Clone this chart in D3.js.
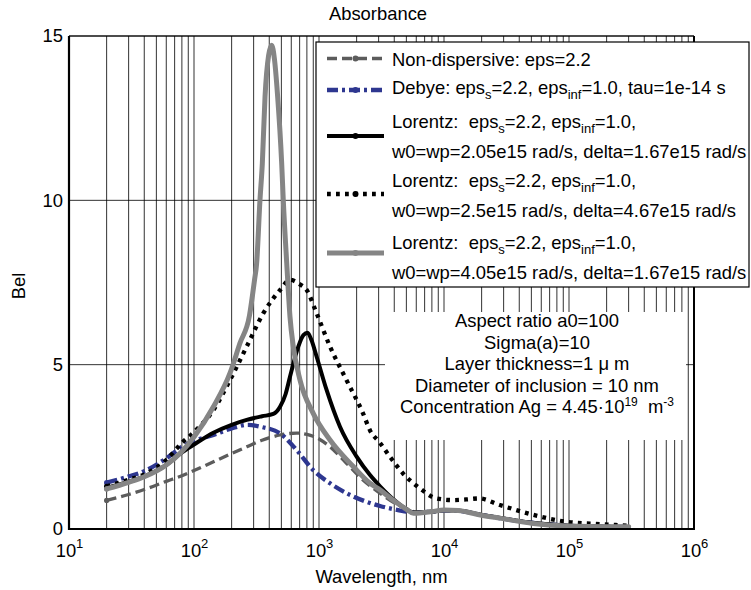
<!DOCTYPE html>
<html>
<head>
<meta charset="utf-8">
<script src="https://cdn.jsdelivr.net/npm/d3@7"></script>
<style>
  html, body { margin: 0; padding: 0; background: #fff; }
  svg { display: block; font-family: "Liberation Sans", Arial, Helvetica, sans-serif; }
  svg text { white-space: pre; }
</style>
</head>
<body>
<svg id="chart" width="751" height="590"></svg>
<script>
// ---- data: [wavelength (nm), absorbance (Bel)] ----
const nonDispersive = [
  [20,0.87],[30,1.05],[40,1.2],[60,1.45],[80,1.62],[100,1.78],[150,2.08],[200,2.3],
  [264,2.5],[350,2.7],[488,2.86],[663,2.92],[800,2.88],[1000,2.74],[1225,2.5],
  [1660,2.0],[2250,1.49],[3077,1.09],[4000,0.8],[5000,0.62],[6000,0.52],[8000,0.52],
  [10000,0.56],[13000,0.55],[20000,0.44],[30000,0.32],[50000,0.2],[100000,0.11],
  [200000,0.07],[300000,0.06]
];
const debye = [
  [20,1.41],[30,1.6],[40,1.76],[60,2.15],[80,2.5],[100,2.68],[143,2.86],[200,3.06],
  [270,3.17],[350,3.1],[488,2.91],[663,2.4],[899,1.79],[1225,1.39],[1660,1.09],
  [2390,0.83],[3077,0.7],[4000,0.6],[5000,0.53],[6000,0.5],[8000,0.53],[10000,0.56],
  [13000,0.55],[20000,0.43],[30000,0.31],[50000,0.19],[100000,0.1],[200000,0.07],
  [300000,0.06]
];
const lorentzA = [
  [20,1.25],[30,1.44],[40,1.6],[60,1.95],[80,2.33],[100,2.57],[143,2.93],[200,3.17],
  [264,3.32],[350,3.43],[431,3.5],[488,3.72],[540,4.1],[586,4.63],[683,5.55],[750,5.9],
  [811,5.97],[870,5.75],[958,5.24],[1150,4.23],[1472,3.11],[2000,2.2],[2560,1.64],
  [3077,1.3],[4000,0.88],[5000,0.6],[5700,0.5],[8000,0.53],[10000,0.57],[13000,0.56],
  [20000,0.43],[30000,0.32],[50000,0.19],[100000,0.1],[200000,0.07],[300000,0.06]
];
const lorentzB = [
  [20,1.3],[30,1.5],[40,1.66],[60,2.1],[80,2.62],[100,2.95],[143,3.62],[194,4.53],
  [264,5.55],[358,6.56],[488,7.27],[586,7.58],[700,7.45],[797,7.27],[958,6.56],
  [1225,5.55],[1660,4.53],[2250,3.52],[2560,3.0],[3077,2.62],[3690,2.2],[4700,1.69],
  [6400,1.24],[8700,0.93],[11800,0.88],[15000,0.9],[19000,0.93],[28000,0.73],
  [51800,0.43],[95600,0.22],[177000,0.15],[300000,0.1]
];
const lorentzC = [
  [20,1.22],[30,1.42],[40,1.59],[60,1.95],[80,2.36],[100,2.8],[143,3.72],[194,4.74],
  [233,5.65],[278,6.5],[305,7.58],[317,8.08],[337,10],[352,11.12],[370,13.15],[395,14.4],
  [418,14.72],[440,14.3],[467,13.15],[503,11.12],[518,10],[552,8.08],[586,6.46],[623,5.55],
  [705,4.53],[899,3.52],[1225,2.71],[1880,1.9],[2560,1.39],[3077,1.19],[4000,0.85],
  [5000,0.6],[5700,0.48],[8000,0.53],[10000,0.58],[13000,0.56],[20000,0.42],[28000,0.33],
  [51800,0.17],[100000,0.09],[200000,0.07],[300000,0.07]
];

// ---- axis ticks and labels ----
const xTickExponents = [1, 2, 3, 4, 5, 6];
const yTicks = [0, 5, 10, 15];
const titleText = "Absorbance";
const xLabelText = "Wavelength, nm";
const yLabelText = "Bel";
const noteLines = [
  "Aspect ratio a0=100",
  "Sigma(a)=10",
  "Layer thickness=1 \u03bc m",
  "Diameter of inclusion = 10 nm",
  "Concentration Ag = 4.45\u00b710^19  m^-3"
];

// ---- series appearance and legend text ----
const series = [
  { data: nonDispersive, color: "#5c5c5c", width: 3.3, dash: "10,5",
    legend: [[["Non-dispersive: eps=2.2"]]] },
  { data: debye, color: "#2e3790", width: 4.3, dash: "11,4,3,4",
    legend: [[["Debye: eps"],["s","sub"],["=2.2, eps"],["inf","sub"],["=1.0, tau=1e-14 s"]]] },
  { data: lorentzA, color: "#000000", width: 4, dash: null,
    legend: [[["Lorentz:  eps"],["s","sub"],["=2.2, eps"],["inf","sub"],["=1.0,"]],
             [["w0=wp=2.05e15 rad/s, delta=1.67e15 rad/s"]]] },
  { data: lorentzB, color: "#000000", width: 4.3, dash: "3.8,5.2",
    legend: [[["Lorentz:  eps"],["s","sub"],["=2.2, eps"],["inf","sub"],["=1.0,"]],
             [["w0=wp=2.5e15 rad/s, delta=4.67e15 rad/s"]]] },
  { data: lorentzC, color: "#858585", width: 5, dash: null,
    legend: [[["Lorentz:  eps"],["s","sub"],["=2.2, eps"],["inf","sub"],["=1.0,"]],
             [["w0=wp=4.05e15 rad/s, delta=1.67e15 rad/s"]]] }
];

const svg = d3.select("#chart");
const plot = { left: 69, right: 694, top: 36, bottom: 529 };
const FONT = 18.4;
const SMALL = 13;

const x = d3.scaleLog().domain([10, 1e6]).range([plot.left, plot.right]);
const y = d3.scaleLinear().domain([0, 15]).range([plot.bottom, plot.top]);

// grid lines
const gridX = [];
for (let e = 1; e < 6; e++) for (let k = 1; k <= 9; k++) gridX.push(k * Math.pow(10, e));
gridX.push(1e6);
const grid = svg.append("g").attr("stroke", "#000").attr("stroke-width", 0.9).attr("stroke-opacity", 0.9);
grid.selectAll("line.v").data(gridX).join("line").attr("class", "v")
  .attr("x1", d => x(d)).attr("x2", d => x(d))
  .attr("y1", plot.top).attr("y2", plot.bottom);
grid.selectAll("line.h").data(yTicks).join("line").attr("class", "h")
  .attr("x1", plot.left).attr("x2", plot.right)
  .attr("y1", d => y(d)).attr("y2", d => y(d));

// curves
const line = d3.line().x(d => x(d[0])).y(d => y(d[1])).curve(d3.curveMonotoneX);
const curves = svg.append("g").attr("fill", "none");
series.forEach(s => {
  curves.append("path").datum(s.data)
    .attr("d", line)
    .attr("stroke", s.color)
    .attr("stroke-width", s.width)
    .attr("stroke-linejoin", "round")
    .attr("stroke-linecap", s.dash ? "butt" : "round")
    .attr("stroke-dasharray", s.dash);
  curves.append("circle")
    .attr("cx", x(s.data[0][0])).attr("cy", y(s.data[0][1]))
    .attr("r", 2.6).attr("fill", s.color);
});

// axes
const xAxis = d3.axisBottom(x)
  .tickValues(xTickExponents.map(e => Math.pow(10, e)))
  .tickSize(0).tickPadding(0).tickFormat("");
const gx = svg.append("g").attr("transform", `translate(0,${plot.bottom})`).call(xAxis);
gx.select(".domain").remove();
gx.attr("font-family", null);
gx.selectAll(".tick").each(function (d, i) {
  const t = d3.select(this).append("text")
    .attr("y", 28).attr("text-anchor", "middle")
    .attr("fill", "#000").attr("font-size", FONT);
  t.append("tspan").text("10");
  t.append("tspan").attr("font-size", SMALL).attr("dy", -9).text(xTickExponents[i]);
});

const yAxis = d3.axisLeft(y).tickValues(yTicks).tickSize(0).tickPadding(6).tickFormat(d3.format("d"));
const gy = svg.append("g").attr("transform", `translate(${plot.left},0)`).call(yAxis);
gy.select(".domain").remove();
gy.attr("font-family", null);
gy.selectAll("text").attr("font-size", FONT).attr("fill", "#000");

// axes frame
const frame = svg.append("g").attr("stroke", "#000").attr("fill", "none");
frame.append("line").attr("x1", plot.left).attr("x2", plot.right + 1).attr("y1", plot.bottom).attr("y2", plot.bottom).attr("stroke-width", 2.2);
frame.append("line").attr("x1", plot.left).attr("x2", plot.left).attr("y1", plot.top).attr("y2", plot.bottom + 1).attr("stroke-width", 2.2);
frame.append("line").attr("x1", plot.right).attr("x2", plot.right).attr("y1", plot.top).attr("y2", plot.bottom).attr("stroke-width", 2);
frame.append("line").attr("x1", plot.left).attr("x2", plot.right).attr("y1", plot.top).attr("y2", plot.top).attr("stroke-width", 1.2);

// title and axis labels
svg.append("text").attr("x", 378).attr("y", 20)
  .attr("text-anchor", "middle").attr("font-size", FONT).text(titleText);
svg.append("text").attr("x", (plot.left + plot.right) / 2).attr("y", 583)
  .attr("text-anchor", "middle").attr("font-size", FONT).text(xLabelText);
svg.append("text").attr("transform", `translate(25,286) rotate(-90)`)
  .attr("text-anchor", "middle").attr("font-size", FONT).text(yLabelText);

// note box with run parameters
const note = svg.append("g");
note.append("rect").attr("x", 385).attr("y", 312).attr("width", 301).attr("height", 128).attr("fill", "#fff");
const noteCx = 537;
noteLines.forEach((txt, i) => {
  const t = note.append("text").attr("x", noteCx).attr("y", 327 + i * 21.5)
    .attr("text-anchor", "middle").attr("font-size", FONT);
  // split out ^superscripts
  const parts = txt.split(/\^(\S+)/);
  parts.forEach((p, j) => {
    if (j % 2 === 1) {
      t.append("tspan").attr("font-size", SMALL - 1).attr("dy", -7).text(p);
    } else if (p.length) {
      t.append("tspan").attr("dy", j > 0 ? 7 : 0).text(p);
    }
  });
});

// legend
const leg = svg.append("g");
leg.append("rect").attr("x", 316).attr("y", 42).attr("width", 433).attr("height", 245)
  .attr("fill", "#fff").attr("stroke", "#000").attr("stroke-width", 1.2);
const legSampleY = [58.5, 90, 136, 194, 253];
const legTextY = [[65.5], [93.5], [127.5, 157.5], [186.5, 216.5], [248.5, 278.5]];
series.forEach((s, i) => {
  leg.append("line").attr("x1", 327).attr("x2", 384)
    .attr("y1", legSampleY[i]).attr("y2", legSampleY[i])
    .attr("stroke", s.color).attr("stroke-width", s.width)
    .attr("stroke-dasharray", s.dash);
  leg.append("circle").attr("cx", 355.5).attr("cy", legSampleY[i]).attr("r", 3).attr("fill", s.color);
  s.legend.forEach((row, r) => {
    const t = leg.append("text").attr("x", 392).attr("y", legTextY[i][r]).attr("font-size", FONT);
    let shifted = false;
    row.forEach(([txt, kind]) => {
      const ts = t.append("tspan").text(txt);
      if (kind === "sub") { ts.attr("font-size", SMALL).attr("dy", 5); shifted = true; }
      else if (shifted) { ts.attr("dy", -5); shifted = false; }
    });
  });
});
</script>
</body>
</html>
